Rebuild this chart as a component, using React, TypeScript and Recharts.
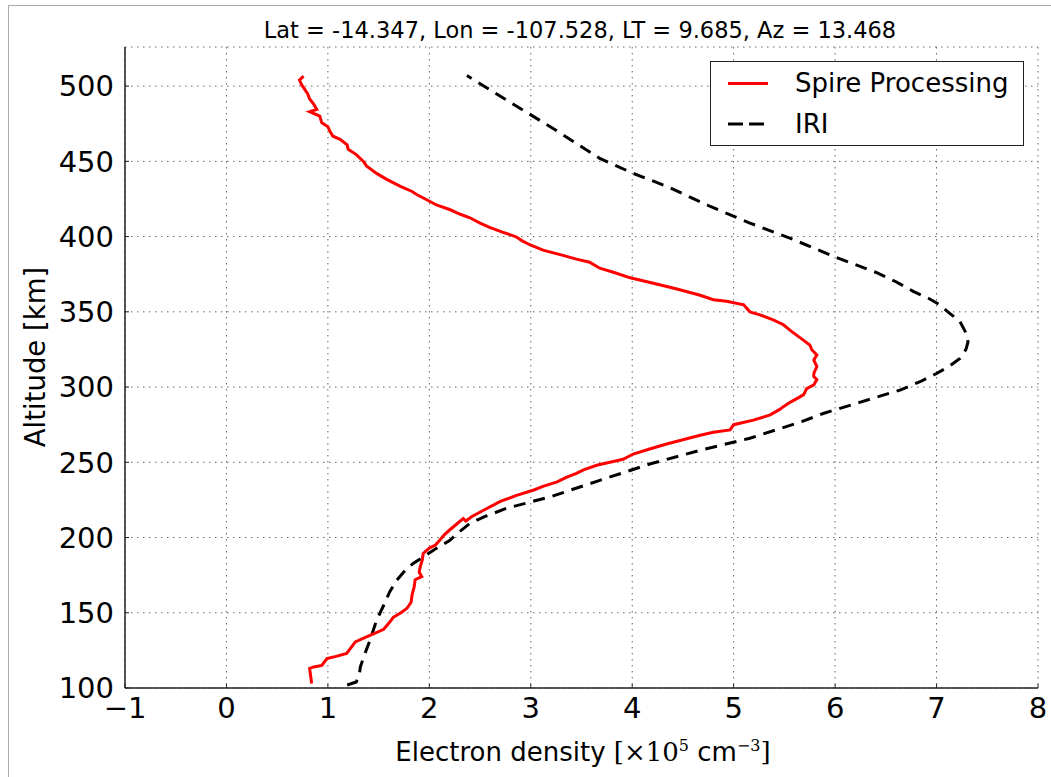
import React from 'react'
import {
  ScatterChart,
  Scatter,
  XAxis,
  YAxis,
  CartesianGrid,
} from 'recharts'

// Spire retrieved profile (altitude km, density x1e5 cm^-3), read bottom to top
const spireAlt = [
  103, 108, 113, 114, 115, 119.6, 121, 123, 127, 130.6, 134, 136, 139, 143, 147, 150,
  153, 157, 162, 167, 172, 174, 177, 180.5, 185, 189.4, 193, 195, 198, 202, 205, 209,
  212.7, 211, 214, 218, 224, 228, 231.6, 234, 237, 240, 242.7, 245, 248, 250, 252,
  255.5, 259, 262, 265, 268, 270, 271.5, 275, 278, 281.5, 285, 287, 290, 293, 295,
  299, 301.5, 305, 307, 309, 313.6, 318, 321.4, 324.8, 328, 331, 333, 337, 341.4,
  344.7, 348, 350, 353, 354.7, 357, 358, 361, 365, 368, 372.6, 376, 379, 383, 385,
  388, 391, 394.6, 397, 400, 403, 406, 409, 412.5, 415, 418, 421, 425, 428, 430,
  433.5, 438, 442, 447, 450, 454.5, 458, 461, 464.6, 466.7, 470, 473, 475.6, 480,
  483, 484.5, 488, 491.5, 495, 498, 501, 504, 506.6,
]
const spireNe = [
  0.84, 0.83, 0.82, 0.86, 0.94, 0.99, 1.08, 1.185, 1.23, 1.27, 1.38, 1.45, 1.55, 1.6, 1.645, 1.72,
  1.78, 1.82, 1.83, 1.85, 1.86, 1.925, 1.9, 1.91, 1.93, 1.94, 2.0, 2.06, 2.1, 2.15, 2.2, 2.27,
  2.335, 2.36, 2.42, 2.53, 2.7, 2.86, 3.03, 3.12, 3.26, 3.35, 3.45, 3.52, 3.65, 3.78, 3.91,
  4.01, 4.18, 4.33, 4.5, 4.67, 4.8, 4.965, 5.0, 5.195, 5.36, 5.45, 5.49, 5.56, 5.64, 5.69,
  5.72, 5.79, 5.82, 5.79, 5.79, 5.82, 5.79, 5.82, 5.77, 5.75, 5.69, 5.65, 5.57, 5.49,
  5.39, 5.26, 5.16, 5.12, 5.1, 4.93, 4.8, 4.67, 4.45, 4.27, 3.98, 3.83, 3.68, 3.58, 3.45,
  3.29, 3.12, 2.99, 2.92, 2.85, 2.72, 2.6, 2.5, 2.4, 2.3, 2.2, 2.07, 1.96, 1.875, 1.83,
  1.71, 1.58, 1.48, 1.38, 1.35, 1.28, 1.2, 1.19, 1.12, 1.05, 1.02, 1.0, 0.94, 0.92,
  0.82, 0.89, 0.86, 0.82, 0.8, 0.77, 0.74, 0.72, 0.76,
]

// IRI model profile
const iriAlt = [
  102, 104, 109, 114, 122, 131.7, 145, 155, 164, 171.7, 178, 182.8, 187, 191.6, 198, 204,
  209.4, 214, 219.4, 227, 238, 249, 258, 266, 277, 282.6, 290, 298, 304, 309, 314, 319,
  325, 330, 336, 343.6, 349, 354.7, 359, 363.6, 370, 376, 387, 398, 409, 420, 433.4,
  442, 452, 461, 471, 490, 507,
]
const iriNe = [
  1.19, 1.28, 1.31, 1.32, 1.36, 1.415, 1.48, 1.55, 1.61, 1.68, 1.76, 1.84, 1.94, 2.04, 2.2, 2.3,
  2.4, 2.55, 2.76, 3.19, 3.68, 4.18, 4.67, 5.16, 5.67, 5.89, 6.25, 6.64, 6.85, 7.0, 7.13, 7.23,
  7.29, 7.31, 7.29, 7.23, 7.13, 7.03, 6.92, 6.77, 6.6, 6.41, 5.98, 5.59, 5.16, 4.77, 4.34,
  4.01, 3.68, 3.47, 3.24, 2.78, 2.37,
]

const xTicks = [-1, 0, 1, 2, 3, 4, 5, 6, 7, 8]
const yTicks = [100, 150, 200, 250, 300, 350, 400, 450, 500]

const spire = spireAlt.map((alt, i) => ({ alt, ne: spireNe[i] }))
const iri = iriAlt.map((alt, i) => ({ alt, ne: iriNe[i] }))

const font = '"DejaVu Sans", sans-serif'
const serif = '"DejaVu Serif", serif'
const tickStyle = { fontSize: 29, fill: '#000', fontFamily: font }
const axisLine = { stroke: '#222', strokeWidth: 1.5 }
const tickLine = { stroke: '#222', strokeWidth: 1 }
const noShape = () => <g />

export default function App() {
  return (
    <div style={{ position: 'absolute', left: 0, top: 0, width: 1051, height: 777, background: '#fff', overflow: 'hidden', fontFamily: font }}>
      <div style={{ position: 'absolute', left: 8, top: 5, width: 1200, height: 900, borderLeft: '1px solid #aaa', borderTop: '1px solid #aaa' }} />

      <ScatterChart width={1051} height={777} margin={{ top: 47, right: 13, bottom: 0, left: 0 }}>
        <CartesianGrid xAxisId="b" yAxisId="l" stroke="#666" strokeDasharray="1.5 4.5" />
        <XAxis
          xAxisId="b"
          type="number"
          dataKey="ne"
          domain={[-1, 8]}
          ticks={xTicks}
          allowDataOverflow
          height={89}
          tickSize={-4}
          tickMargin={13.5}
          tick={tickStyle}
          tickLine={tickLine}
          axisLine={axisLine}
          tickFormatter={(v: number) => String(v).replace('-', '\u2212')}
        />
        <XAxis
          xAxisId="t"
          orientation="top"
          type="number"
          dataKey="ne"
          domain={[-1, 8]}
          ticks={xTicks}
          allowDataOverflow
          height={0}
          tickSize={-4}
          tick={false}
          tickLine={tickLine}
          axisLine={axisLine}
        />
        <YAxis
          yAxisId="l"
          type="number"
          dataKey="alt"
          domain={[100, 526]}
          ticks={yTicks}
          allowDataOverflow
          width={125}
          tickSize={-4}
          tickMargin={15}
          tick={tickStyle}
          tickLine={tickLine}
          axisLine={axisLine}
        />
        <YAxis
          yAxisId="r"
          orientation="right"
          type="number"
          dataKey="alt"
          domain={[100, 526]}
          ticks={yTicks}
          allowDataOverflow
          width={0}
          tickSize={-4}
          tick={false}
          tickLine={tickLine}
          axisLine={axisLine}
        />
        <Scatter
          xAxisId="b"
          yAxisId="l"
          data={iri}
          shape={noShape}
          line={{ stroke: '#000', strokeWidth: 3, strokeDasharray: '12 8' }}
          isAnimationActive={false}
        />
        <Scatter
          xAxisId="b"
          yAxisId="l"
          data={spire}
          shape={noShape}
          line={{ stroke: '#ff0000', strokeWidth: 3 }}
          isAnimationActive={false}
        />
      </ScatterChart>

      {/* title */}
      <div style={{ position: 'absolute', left: 230, top: 17, width: 700, textAlign: 'center', fontSize: 22.5, lineHeight: '26px', color: '#000', whiteSpace: 'nowrap' }}>
        Lat = -14.347, Lon = -107.528, LT = 9.685, Az = 13.468
      </div>

      {/* axis labels */}
      <div style={{ position: 'absolute', left: 328, top: 731, width: 510, textAlign: 'center', fontSize: 26, lineHeight: '30px', color: '#000', whiteSpace: 'nowrap' }}>
        Electron density <span style={{ fontFamily: serif }}>[×10<sup style={{ fontSize: 16, verticalAlign: 10 }}>5</sup></span> cm<sup style={{ fontSize: 16, verticalAlign: 10, fontFamily: serif }}>−3</sup><span style={{ fontFamily: serif }}>]</span>
      </div>
      <div style={{ position: 'absolute', left: 35 - 150, top: 357 - 15, width: 300, height: 30, textAlign: 'center', fontSize: 27.5, lineHeight: '30px', color: '#000', transform: 'rotate(-90deg)' }}>
        Altitude [km]
      </div>

      {/* legend */}
      <div style={{ position: 'absolute', left: 710, top: 61, width: 312, height: 83, border: '1.5px solid #222', background: '#fff' }}>
        <svg style={{ position: 'absolute', left: 15, top: 0 }} width={45} height={83}>
          <line x1={2} y1={21.5} x2={42} y2={21.5} stroke="#ff0000" strokeWidth={3} />
          <line x1={2} y1={62} x2={42} y2={62} stroke="#000" strokeWidth={3} strokeDasharray="15 6" />
        </svg>
        <div style={{ position: 'absolute', left: 84, top: 5, fontSize: 26, lineHeight: '32px', color: '#000', whiteSpace: 'nowrap' }}>Spire Processing</div>
        <div style={{ position: 'absolute', left: 84, top: 46, fontSize: 26, lineHeight: '32px', color: '#000', whiteSpace: 'nowrap' }}>IRI</div>
      </div>
    </div>
  )
}
